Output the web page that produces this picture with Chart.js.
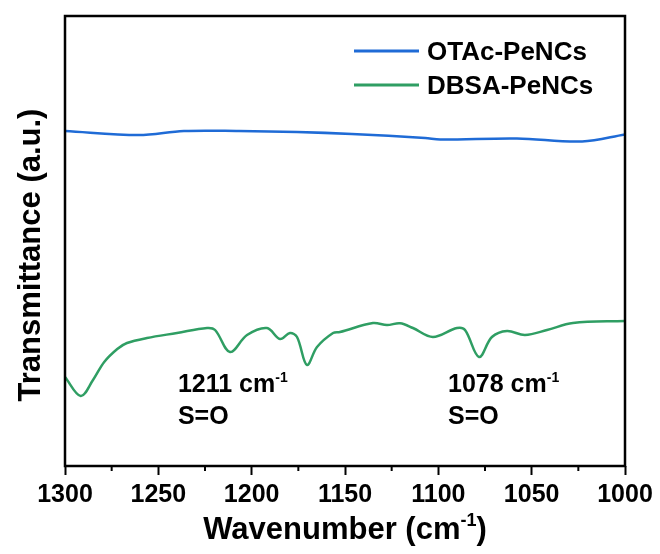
<!DOCTYPE html>
<html>
<head>
<meta charset="utf-8">
<script src="https://cdn.jsdelivr.net/npm/chart.js@4.4.1/dist/chart.umd.min.js"></script>
<style>
  body { margin: 0; background: #fff; }
  .wrap { width: 660px; height: 554px; position: relative; }
</style>
</head>
<body>
<div class="wrap">
  <canvas id="ftir"></canvas>
</div>

<script>
  // FTIR data (transmittance in arbitrary units)
  var otacWn = [1300, 1260.6, 1236.3, 1206.8, 1175.7, 1146.3, 1107.1, 1099, 1057.9, 1023, 1000];
  var otacT = [334, 330, 334, 334, 333, 331, 327, 325.5, 326.5, 323.5, 330.5];

  var dbsaWn = [1300, 1291.6, 1285, 1279, 1272, 1266.8, 1256.1, 1240, 1223.9, 1219.6, 1211.6, 1202.5,
    1191.8, 1184.8, 1179.5, 1175.7, 1170.4, 1165, 1156.4, 1152.7, 1135, 1127.5, 1120.5, 1113.6,
    1102.9, 1090, 1085.7, 1078.2, 1071.3, 1063.2, 1053.6, 1041.8, 1027.9, 1000];
  var dbsaT = [88, 69, 85, 103, 116, 122, 127, 132, 137, 135, 113, 130,
    137, 126, 132, 128, 100, 118, 132, 133, 142, 140, 141.7, 137,
    128, 137, 135, 108, 128, 134, 130, 135, 142, 144];

  var seriesNames = ["OTAc-PeNCs", "DBSA-PeNCs"];
  var seriesColors = ["#1f6bd6", "#2f9e63"];

  var xTicks = [1300, 1250, 1200, 1150, 1100, 1050, 1000];
  var minorTicks = [1275, 1225, 1175, 1125, 1075, 1025];

  // peak labels: [wavenumber of text left edge, y of first baseline, label]
  var peakWn = [1239.5, 1094.8];
  var peakText = ["1211", "1078"];
  var peakY = [73, 73];

  var FONT = "'Liberation Sans', Arial, sans-serif";

  function toPoints(xs, ys) {
    return xs.map((x, i) => ({ x: x, y: ys[i] }));
  }

  function drawSup(ctx, parts, x, y, size, align) {
    // parts: [text, isSup]
    var widths = parts.map(p => {
      ctx.font = "bold " + (p[1] ? Math.round(size * 0.58) : size) + "px " + FONT;
      return ctx.measureText(p[0]).width;
    });
    var total = widths.reduce((a, b) => a + b, 0);
    var cx = align === "center" ? x - total / 2 : x;
    ctx.textAlign = "left";
    ctx.textBaseline = "alphabetic";
    parts.forEach((p, i) => {
      ctx.font = "bold " + (p[1] ? Math.round(size * 0.58) : size) + "px " + FONT;
      ctx.fillText(p[0], cx, p[1] ? y - size * 0.42 : y);
      cx += widths[i];
    });
  }

  var extras = {
    id: "extras",
    afterDraw(chart) {
      var ctx = chart.ctx;
      var a = chart.chartArea;
      var xs = chart.scales.x;
      var ys = chart.scales.y;
      ctx.save();
      ctx.fillStyle = "#000";
      ctx.strokeStyle = "#000";

      // frame
      ctx.lineWidth = 2.5;
      ctx.strokeRect(a.left, a.top, a.right - a.left, a.bottom - a.top);

      // minor ticks
      ctx.lineWidth = 2;
      minorTicks.forEach(v => {
        var px = xs.getPixelForValue(v);
        ctx.beginPath();
        ctx.moveTo(px, a.bottom);
        ctx.lineTo(px, a.bottom + 5);
        ctx.stroke();
      });

      // legend
      ctx.lineWidth = 3;
      ctx.font = "bold 26px " + FONT;
      ctx.textBaseline = "alphabetic";
      ctx.textAlign = "left";
      [51, 85].forEach((ly, i) => {
        ctx.strokeStyle = seriesColors[i];
        ctx.beginPath();
        ctx.moveTo(354, ly);
        ctx.lineTo(419, ly);
        ctx.stroke();
        ctx.fillText(seriesNames[i], 427, ly + 9);
      });

      // peak annotations
      peakWn.forEach((w, i) => {
        var px = xs.getPixelForValue(w);
        var py = ys.getPixelForValue(peakY[i]);
        drawSup(ctx, [[peakText[i] + " cm", false], ["-1", true]], px, py, 25, "left");
        ctx.font = "bold 25px " + FONT;
        ctx.fillText("S=O", px, py + 32);
      });

      // axis titles
      drawSup(ctx, [["Wavenumber (cm", false], ["-1", true], [")", false]], (a.left + a.right) / 2, 539, 31, "center");

      ctx.translate(40, 255);
      ctx.rotate(-Math.PI / 2);
      ctx.font = "bold 31px " + FONT;
      ctx.textAlign = "center";
      ctx.fillText("Transmittance (a.u.)", 0, 0);
      ctx.restore();
    }
  };

  new Chart(document.getElementById("ftir"), {
    type: "line",
    data: {
      datasets: [{
        label: seriesNames[0],
        data: toPoints(otacWn, otacT),
        borderColor: seriesColors[0],
        borderWidth: 2.5,
        pointRadius: 0,
        tension: 0.35
      }, {
        label: seriesNames[1],
        data: toPoints(dbsaWn, dbsaT),
        borderColor: seriesColors[1],
        borderWidth: 2.5,
        pointRadius: 0,
        tension: 0.35
      }]
    },
    options: {
      responsive: true,
      maintainAspectRatio: false,
      animation: false,
      layout: { padding: { top: 16, right: 35, left: 0, bottom: 0 } },
      plugins: { legend: { display: false }, tooltip: { enabled: false } },
      scales: {
        x: {
          type: "linear",
          reverse: true,
          min: 1000,
          max: 1300,
          afterBuildTicks: s => { s.ticks = xTicks.map(v => ({ value: v })); },
          afterFit: s => { s.height = 88; },
          border: { display: false },
          grid: { drawOnChartArea: false, tickLength: 9, tickWidth: 2, tickColor: "#000" },
          ticks: {
            color: "#000",
            padding: 5,
            maxRotation: 0,
            callback: v => String(v),
            font: { family: FONT, size: 25, weight: "bold" }
          }
        },
        y: {
          min: -1,
          max: 449,
          afterFit: s => { s.width = 65; },
          border: { display: false },
          grid: { display: false },
          ticks: { display: false }
        }
      }
    },
    plugins: [extras]
  });
</script>
</body>
</html>
